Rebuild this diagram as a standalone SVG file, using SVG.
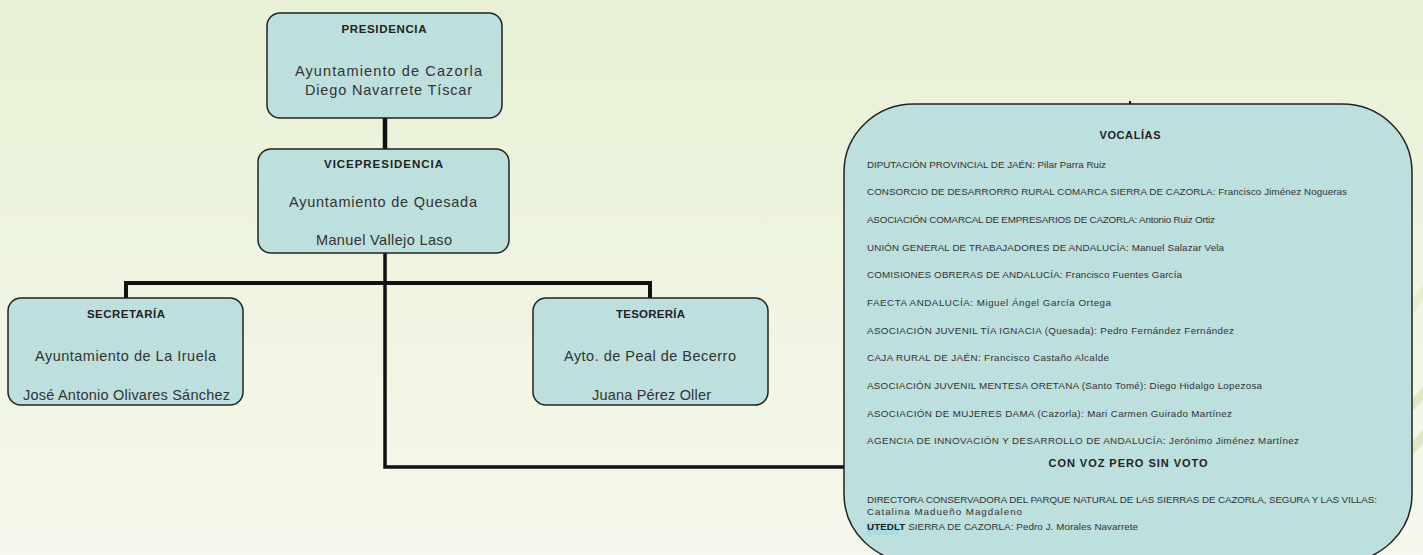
<svg xmlns="http://www.w3.org/2000/svg" width="1423" height="555" viewBox="0 0 1423 555">
<defs>
<linearGradient id="bg" x1="0" y1="0" x2="0" y2="1">
<stop offset="0" stop-color="#e8f1d5"/>
<stop offset="1" stop-color="#f5f8ec"/>
</linearGradient>
<style>
.box{fill:#bddfde;stroke:#222;stroke-width:1.5}
.hd{font-family:"Liberation Sans",Arial,sans-serif;font-weight:bold;font-size:11.5px;fill:#222;text-anchor:middle}
.bd{font-family:"Liberation Sans",Arial,sans-serif;font-size:14.5px;fill:#333;text-anchor:middle}
.vl{font-family:"Liberation Sans",Arial,sans-serif;font-size:9.8px;fill:#333}
.vh{font-family:"Liberation Sans",Arial,sans-serif;font-weight:bold;font-size:11px;fill:#222;text-anchor:middle}
.cn{fill:none;stroke:#111;stroke-linecap:butt}
.stripe{stroke:#dde9c2;stroke-width:9;fill:none}
</style>
</defs>
<rect x="0" y="0" width="1423" height="555" fill="url(#bg)"/>
<g id="decor">
<line class="stripe" x1="1380" y1="440" x2="1440" y2="375"/>
<line class="stripe" x1="1380" y1="484" x2="1440" y2="418"/>
<line class="stripe" x1="1395" y1="330" x2="1440" y2="270" stroke-width="6" opacity="0.6"/>
</g>
<g id="connectors">
<line class="cn" x1="385" y1="118" x2="385" y2="149" stroke-width="4.5"/>
<polyline class="cn" points="385,253 385,467 844,467" stroke-width="3.5"/>
<polyline class="cn" points="126,298 126,283 650,283 650,298" stroke-width="4"/>
<line class="cn" x1="1130" y1="101" x2="1130" y2="105" stroke-width="2"/>
</g>
<g id="presidencia">
<rect class="box" x="267" y="13" width="235" height="105" rx="13" ry="13"/>
<text class="hd" x="384" y="33" textLength="85" lengthAdjust="spacing">PRESIDENCIA</text>
<text class="bd" x="388.5" y="76" textLength="187" lengthAdjust="spacing">Ayuntamiento de Cazorla</text>
<text class="bd" x="388.5" y="95" textLength="167" lengthAdjust="spacing">Diego Navarrete Tíscar</text>
</g>
<g id="vicepresidencia">
<rect class="box" x="258" y="149" width="251" height="104" rx="13" ry="13"/>
<text class="hd" x="383.5" y="168" textLength="119" lengthAdjust="spacing">VICEPRESIDENCIA</text>
<text class="bd" x="383" y="207" textLength="188" lengthAdjust="spacing">Ayuntamiento de Quesada</text>
<text class="bd" x="384" y="245" textLength="136" lengthAdjust="spacing">Manuel Vallejo Laso</text>
</g>
<g id="secretaria">
<rect class="box" x="8" y="298" width="235" height="107" rx="13" ry="13"/>
<text class="hd" x="126" y="318" textLength="78" lengthAdjust="spacing">SECRETARÍA</text>
<text class="bd" x="125.5" y="361" textLength="181" lengthAdjust="spacing">Ayuntamiento de La Iruela</text>
<text class="bd" x="126.5" y="400" textLength="207" lengthAdjust="spacing">José Antonio Olivares Sánchez</text>
</g>
<g id="tesoreria">
<rect class="box" x="533" y="298" width="235" height="107" rx="13" ry="13"/>
<text class="hd" x="650.5" y="318" textLength="69" lengthAdjust="spacing">TESORERÍA</text>
<text class="bd" x="650" y="361" textLength="172" lengthAdjust="spacing">Ayto. de Peal de Becerro</text>
<text class="bd" x="651.5" y="400" textLength="119" lengthAdjust="spacing">Juana Pérez Oller</text>
</g>
<g id="vocalias">
<rect class="box" x="844" y="104" width="568" height="458" rx="70" ry="68"/>
<text class="vh" x="1130" y="139" textLength="61" lengthAdjust="spacing">VOCALÍAS</text>
<text class="vl" x="867" y="167.5" textLength="239" lengthAdjust="spacing">DIPUTACIÓN PROVINCIAL DE JAÉN: Pilar Parra Ruiz</text>
<text class="vl" x="867" y="195.2" textLength="480" lengthAdjust="spacing">CONSORCIO DE DESARRORRO RURAL COMARCA SIERRA DE CAZORLA: Francisco Jiménez Nogueras</text>
<text class="vl" x="867" y="222.8" textLength="348" lengthAdjust="spacing">ASOCIACIÓN COMARCAL DE EMPRESARIOS DE CAZORLA: Antonio Ruiz Ortiz</text>
<text class="vl" x="867" y="250.5" textLength="357" lengthAdjust="spacing">UNIÓN GENERAL DE TRABAJADORES DE ANDALUCÍA: Manuel Salazar Vela</text>
<text class="vl" x="867" y="278.2" textLength="315" lengthAdjust="spacing">COMISIONES OBRERAS DE ANDALUCÍA: Francisco Fuentes García</text>
<text class="vl" x="867" y="305.8" textLength="244" lengthAdjust="spacing">FAECTA ANDALUCÍA: Miguel Ángel García Ortega</text>
<text class="vl" x="867" y="333.5" textLength="367" lengthAdjust="spacing">ASOCIACIÓN JUVENIL TÍA IGNACIA (Quesada): Pedro Fernández Fernández</text>
<text class="vl" x="867" y="361.2" textLength="242" lengthAdjust="spacing">CAJA RURAL DE JAÉN: Francisco Castaño Alcalde</text>
<text class="vl" x="867" y="388.8" textLength="395" lengthAdjust="spacing">ASOCIACIÓN JUVENIL MENTESA ORETANA (Santo Tomé): Diego Hidalgo Lopezosa</text>
<text class="vl" x="867" y="416.5" textLength="365" lengthAdjust="spacing">ASOCIACIÓN DE MUJERES DAMA (Cazorla): Mari Carmen Guirado Martínez</text>
<text class="vl" x="867" y="444.2" textLength="432" lengthAdjust="spacing">AGENCIA DE INNOVACIÓN Y DESARROLLO DE ANDALUCÍA: Jerónimo Jiménez Martínez</text>
<text class="vh" x="1128" y="467" textLength="159" lengthAdjust="spacing">CON VOZ PERO SIN VOTO</text>
<text class="vl" x="867" y="502.5" textLength="510" lengthAdjust="spacing">DIRECTORA CONSERVADORA DEL PARQUE NATURAL DE LAS SIERRAS DE CAZORLA, SEGURA Y LAS VILLAS:</text>
<text class="vl" x="867" y="515" textLength="155" lengthAdjust="spacing">Catalina Madueño  Magdaleno</text>
<rect x="866" y="522" width="33" height="13" fill="#a8dce0"/>
<text class="vl" x="867" y="530" textLength="271" lengthAdjust="spacing"><tspan font-weight="bold" fill="#222">UTEDLT</tspan> SIERRA DE CAZORLA: Pedro J. Morales Navarrete</text>
</g>
</svg>
